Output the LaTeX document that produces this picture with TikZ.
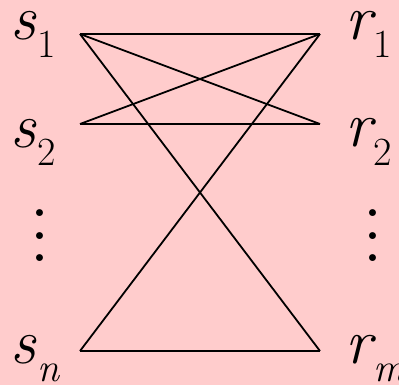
\documentclass[tikz,border=0pt]{standalone}
\usepackage{tikz}
\usetikzlibrary{positioning}
\definecolor{rosa}{HTML}{FFCCCC}

\newcommand{\lab}[2]{{\itshape #1}\kern2pt\raisebox{-18pt}{\fontsize{40}{40}\selectfont #2}}

\begin{document}
\begin{tikzpicture}[
        x=1pt, y=-1pt,
        every node/.style={inner sep=0pt},
        lbl/.style={font=\fontsize{64}{64}\selectfont, anchor=base west},
        punkte/.style={font=\fontsize{48}{22.5}\selectfont\bfseries, align=center},
        kante/.style={line width=1.8pt, black},
      ]
      \useasboundingbox (0,0) rectangle (399,385);
      \fill[rosa] (0,0) rectangle (399,385);

      % Endpunkte der Kanten
      \coordinate (s1) at (80,34);
      \coordinate (s2) at (80,124);
      \coordinate (sn) at (80,351);
      \coordinate (r1) at (320,34);
      \coordinate (r2) at (320,124);
      \coordinate (rm) at (320,351);

      % Beschriftung links
      \node[lbl] (ls1) at (10,40) {\lab{s}{1}};
      \node[lbl] (ls2) at (10,148) {\lab{s}{2}};
      \node[lbl] (lsn) at (10,363) {\lab{s}{\itshape n}};
      \node[punkte] (dl) at (40,236) {.\\.\\.};

      % Beschriftung rechts
      \node[lbl] (lr1) at (345,40) {\lab{r}{1}};
      \node[lbl] (lr2) at (345,147) {\lab{r}{2}};
      \node[lbl] (lrm) at (345,363) {\lab{r}{\itshape m}};
      \node[punkte] (dr) at (373,236) {.\\.\\.};

      % Kanten
      \draw[kante] (s1) -- (r1);
      \draw[kante] (s1) -- (r2);
      \draw[kante] (s1) -- (rm);
      \draw[kante] (s2) -- (r1);
      \draw[kante] (s2) -- (r2);
      \draw[kante] (sn) -- (r1);
      \draw[kante] (sn) -- (rm);
    \end{tikzpicture}
\end{document}
